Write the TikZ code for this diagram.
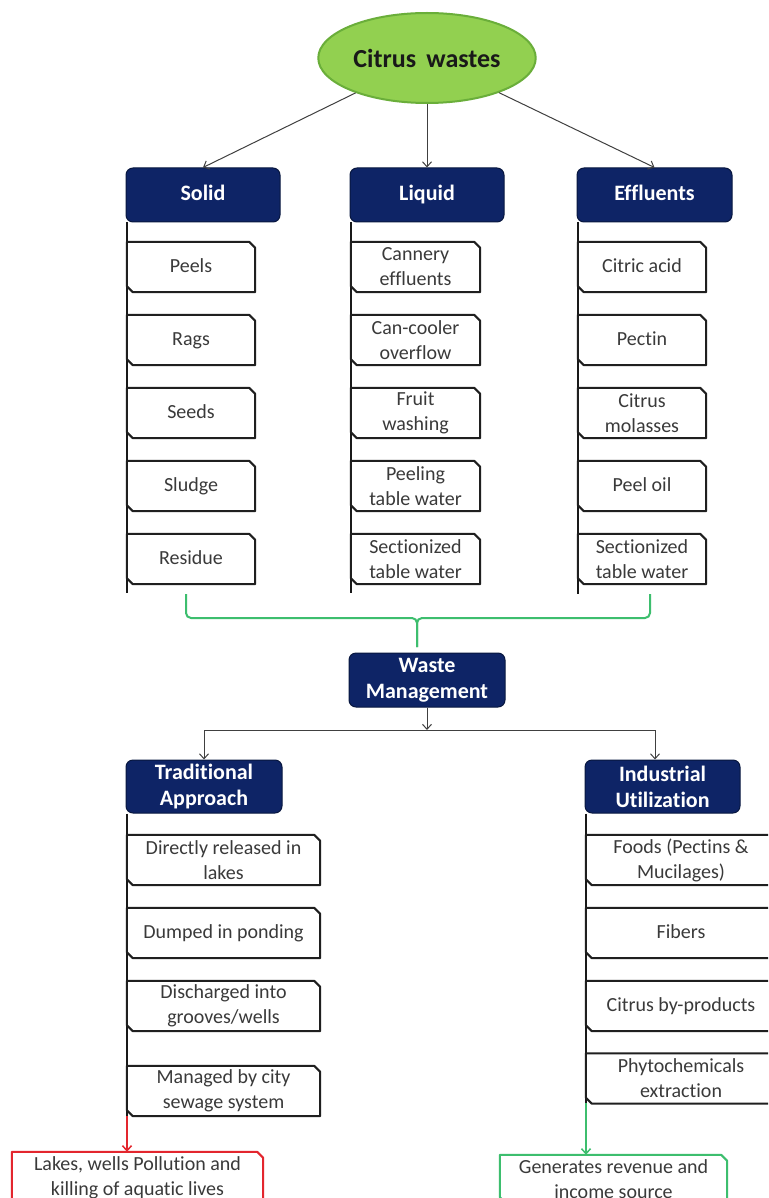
\documentclass[tikz,border=0pt]{standalone}
\usepackage{fontspec}
\setmainfont{Carlito}[Ligatures={NoCommon},RawFeature={-liga;-clig;-dlig}]
\usetikzlibrary{shapes.geometric,arrows.meta}
\definecolor{navy}{HTML}{0E2466}
\definecolor{navyline}{HTML}{08173F}
\definecolor{lgreen}{HTML}{92D050}
\definecolor{dgreen}{HTML}{6AAE3A}
\definecolor{bgreen}{HTML}{3DBE6E}
\definecolor{bred}{HTML}{E3262E}
\definecolor{txt}{HTML}{3A3A3A}
\newcommand\chamf[2][boxline]{\draw[#1] ([xshift=6pt]#2.south west) -- (#2.south east) -- ([yshift=-6pt]#2.north east) -- ([xshift=-6pt]#2.north east) -- (#2.north west) -- ([yshift=6pt]#2.south west) -- cycle;}
\begin{document}
\begin{tikzpicture}[x=1pt,y=-1pt,
  hdr/.style={rectangle, rounded corners=7pt, fill=navy, draw=navyline, line width=1pt,
    text=white, font=\fontsize{22}{26}\selectfont\bfseries, align=center, inner sep=0pt},
  oneline/.style={text height=16pt, text depth=5pt},
  lbox/.style={rectangle, draw=none, minimum height=50pt, inner sep=0pt, align=center,
    text=txt, font=\fontsize{20}{25}\selectfont},
  boxline/.style={draw=black!88, line width=2pt, line join=round},
  redline/.style={draw=bred, line width=2pt, line join=round},
  greenline/.style={draw=bgreen, line width=2pt, line join=round},
  spine/.style={draw=black!90, line width=2pt},
  conn/.style={draw=black!75, line width=1pt, -{Straight Barb[length=5pt,width=9pt]}},
  bracket/.style={draw=bgreen, line width=2pt, rounded corners=5pt}
]
\clip (0,0) rectangle (768,1198);
\fill[white] (0,0) rectangle (768,1198);

% top
\node[ellipse, minimum width=186pt, minimum height=90pt, fill=lgreen, draw=dgreen, line width=2pt,
  text=black!90, font=\fontsize{26}{30}\selectfont\bfseries] (cw) at (427,58) {Citrus\, wastes};

\node[hdr, oneline, minimum width=154pt, minimum height=54pt] (solid) at (203,195) {Solid};
\node[hdr, oneline, minimum width=154pt, minimum height=54pt] (liquid) at (427,195) {Liquid};
\node[hdr, oneline, minimum width=155pt, minimum height=54pt] (eff) at (654.5,195) {Effluents};

\draw[conn] (cw) -- (solid.north);
\draw[conn] (cw) -- (liquid.north);
\draw[conn] (cw) -- (eff.north);

% spines
\coordinate (s1) at (127,593);
\coordinate (s2) at (351,593);
\coordinate (s3) at (578,594);
\draw[spine] (solid.south west -| s1) -- (s1);
\draw[spine] (liquid.south west -| s2) -- (s2);
\draw[spine] (eff.south west -| s3) -- (s3);

% solid column
\node[lbox, oneline, minimum width=128pt] (peels) at (191,267) {Peels};
\node[lbox, oneline, minimum width=128pt] (rags) at (191,340) {Rags};
\node[lbox, oneline, minimum width=128pt] (seeds) at (191,413) {Seeds};
\node[lbox, oneline, minimum width=128pt] (sludge) at (191,486) {Sludge};
\node[lbox, oneline, minimum width=128pt] (residue) at (191,559) {Residue};
% liquid column
\node[lbox, minimum width=129pt] (cannery) at (415.5,267) {Cannery\\effluents};
\node[lbox, minimum width=129pt] (cancool) at (415.5,340) {Can-cooler\\overflow};
\node[lbox, minimum width=129pt] (fruit) at (415.5,413) {Fruit\\washing};
\node[lbox, minimum width=129pt] (peeling) at (415.5,486) {Peeling\\table water};
\node[lbox, minimum width=129pt] (sect1) at (415.5,559) {Sectionized\\table water};
% effluents column
\node[lbox, oneline, minimum width=128pt] (citric) at (642,267) {Citric acid};
\node[lbox, oneline, minimum width=128pt] (pectin) at (642,340) {Pectin};
\node[lbox, minimum width=128pt] (molas) at (642,413) {Citrus\\molasses};
\node[lbox, oneline, minimum width=128pt] (peeloil) at (642,486) {Peel oil};
\node[lbox, minimum width=128pt] (sect2) at (642,559) {Sectionized\\table water};

\foreach \n in {peels,rags,seeds,sludge,residue,cannery,cancool,fruit,peeling,sect1,citric,pectin,molas,peeloil,sect2}{\chamf{\n}}

% bracket
\node[hdr, minimum width=156pt, minimum height=54pt] (wm) at (427,680) {Waste\\Management};
\coordinate (bl) at (186,594);
\coordinate (br) at (650,594);
\coordinate (bt) at (417,647);
\draw[bracket] (bl) -- (186,618) -- (417,618) -- (bt);
\draw[bracket] (br) -- (650,618) -- (417,618) -- (bt);

% management split
\node[hdr, minimum width=156pt, minimum height=53pt] (trad) at (204,786.5) {Tradit\kern0pt ional\\Approach};
\node[hdr, minimum width=155pt, minimum height=53pt] (ind) at (662.5,786.5) {Industrial\\Utilization};
\coordinate (bus) at (427,730);
\coordinate (busL) at (204,730);
\coordinate (busR) at (655,730);
\draw[conn] (wm.south) -- (bus);
\draw[draw=black!75, line width=1pt] (busL) -- (busR);
\draw[conn] (busL) -- (trad.north);
\draw[conn] (busR) -- (busR |- ind.north);

% traditional column
\coordinate (t1) at (127,1116);
\coordinate (t2) at (586,1103);
\draw[spine] (trad.south west -| t1) -- (t1);
\draw[spine] (ind.south west -| t2) -- (t2);

\node[lbox, minimum width=193pt] (direct) at (223.5,860) {Directly released in\\lakes};
\node[lbox, oneline, minimum width=193pt] (dumped) at (223.5,933) {Dumped in ponding};
\node[lbox, minimum width=193pt] (disch) at (223.5,1006) {Discharged into\\grooves/wells};
\node[lbox, minimum width=193pt] (managed) at (223.5,1091) {Managed by city\\sewage system};

\node[lbox, minimum width=190pt] (foods) at (681,860) {Foods (Pectins \&\\Mucilages)};
\node[lbox, oneline, minimum width=190pt] (fibers) at (681,933) {Fibers};
\node[lbox, oneline, minimum width=190pt] (byprod) at (681,1006) {Citrus by-products};
\node[lbox, minimum width=190pt] (phyto) at (681,1078.5) {Phytochemicals\\extraction};

\foreach \n in {direct,dumped,disch,managed,foods,fibers,byprod,phyto}{\chamf{\n}}

% outcomes
\node[lbox, minimum width=251pt, minimum height=52pt] (lakes) at (137.5,1178) {Lakes, wells Pollution and\\killing of aquatic lives};
\node[lbox, minimum width=227pt, minimum height=48pt] (rev) at (613.5,1179) {Generates revenue and\\income source};
\chamf[redline]{lakes}
\chamf[greenline]{rev}
\draw[conn, draw=bred, line width=1.5pt] (t1) -- (t1 |- lakes.north);
\draw[conn, draw=bgreen, line width=1.5pt] (t2) -- (t2 |- rev.north);
\end{tikzpicture}
\end{document}
